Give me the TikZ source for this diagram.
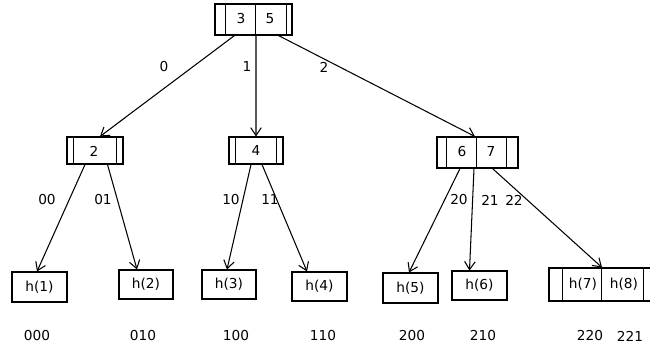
\documentclass[tikz,border=0pt]{standalone}
\usepackage{fontspec}
\setmainfont{DejaVu Sans}
\usetikzlibrary{arrows.meta}

\tikzset{
  bucket/.style={draw, line width=0.6pt, inner sep=0pt},
  slot/.style={font=\fontsize{7.8}{9}\selectfont, inner sep=1pt},
  edge/.style={line width=0.6pt, -{Straight Barb[length=4.5pt,width=6pt]}}
}

\begin{document}
\begin{tikzpicture}[x=0.02cm, y=-0.02cm]
\useasboundingbox (0,0) rectangle (650,349);
\clip (0,0) rectangle (650,349);

% directory buckets
\node[bucket, minimum width=1.54cm, minimum height=0.62cm] (root) at (253.5,19.5) {};
\node[bucket, minimum width=1.12cm, minimum height=0.54cm] (n2) at (95,150.5) {};
\node[bucket, minimum width=1.08cm, minimum height=0.54cm] (n4) at (256,150.5) {};
\node[bucket, minimum width=1.62cm, minimum height=0.62cm] (n67) at (477.5,152.5) {};

\foreach \d in {0.22,0.82,1.44}
	\draw[line width=0.6pt] ([xshift=\d cm]root.north west) -- ([xshift=\d cm]root.south west);
\foreach \d in {0.14,1.0}
	\draw[line width=0.6pt] ([xshift=\d cm]n2.north west) -- ([xshift=\d cm]n2.south west);
\foreach \d in {0.14,0.96}
	\draw[line width=0.6pt] ([xshift=\d cm]n4.north west) -- ([xshift=\d cm]n4.south west);
\foreach \d in {0.2,0.8,1.4}
	\draw[line width=0.6pt] ([xshift=\d cm]n67.north west) -- ([xshift=\d cm]n67.south west);

\node[slot] (r3) at (241,19) {3};
\node[slot] (r5) at (270,19) {5};
\node[slot] (v2) at (94,151) {2};
\node[slot] (v4) at (256,151) {4};
\node[slot] (v6) at (462,152) {6};
\node[slot] (v7) at (491,152) {7};

% leaf buckets
\node[bucket, minimum width=1.10cm, minimum height=0.60cm] (h1) at (39.5,287) {};
\node[bucket, minimum width=1.08cm, minimum height=0.58cm] (h2) at (146,284.5) {};
\node[bucket, minimum width=1.08cm, minimum height=0.58cm] (h3) at (229,284.5) {};
\node[bucket, minimum width=1.10cm, minimum height=0.58cm] (h4) at (319.5,286.5) {};
\node[bucket, minimum width=1.10cm, minimum height=0.60cm] (h5) at (410.5,288) {};
\node[bucket, minimum width=1.10cm, minimum height=0.58cm] (h6) at (479.5,285.5) {};
\node[bucket, minimum width=2.20cm, minimum height=0.66cm] (h78) at (604,284.5) {};
\foreach \d in {0.28,1.06,1.9}
	\draw[line width=0.6pt] ([xshift=\d cm]h78.north west) -- ([xshift=\d cm]h78.south west);

\foreach \n/\x/\y in {1/39.5/287, 2/146/284.5, 3/229/284.5, 4/319.5/286.5, 5/410.5/288, 6/479.5/285.5, 7/583/284.5, 8/624/284.5}
	\node[slot] (t\n) at (\x,\y) {h(\n)};

% pointers
\draw[edge] ([xshift=-0.38cm]root.south) -- ([xshift=0.1cm]n2.north);
\draw[edge] ([xshift=0.05cm]root.south) -- (n4.north);
\draw[edge] ([xshift=0.5cm]root.south) -- ([xshift=-0.05cm]n67.north);

\draw[edge] ([xshift=-0.2cm]n2.south) -- ([xshift=-0.05cm]h1.north);
\draw[edge] ([xshift=0.25cm]n2.south) -- ([xshift=-0.18cm]h2.north);
\draw[edge] ([xshift=-0.1cm]n4.south) -- ([xshift=-0.04cm]h3.north);
\draw[edge] ([xshift=0.12cm]n4.south) -- ([xshift=-0.25cm]h4.north);
\draw[edge] ([xshift=-0.35cm]n67.south) -- ([xshift=-0.03cm]h5.north);
\draw[edge] ([xshift=-0.07cm]n67.south) -- ([xshift=-0.2cm]h6.north);
\draw[edge] ([xshift=0.3cm]n67.south) -- ([xshift=-0.04cm]h78.north);

% branch digits
\foreach \x/\y/\t in {164/67/0, 247/67/1, 324/67/2, 47/200/00, 103/200/01, 231/200/10, 270/200/11, 459/200/20, 490/200/21, 514/200/22}
	\node[slot] (e\t) at (\x,\y) {\t};

% bucket addresses
\foreach \x/\t in {37/000, 143/010, 236/100, 323/110, 412/200, 483/210, 590/220, 630/221}
	\node[slot] (b\t) at (\x,336) {\t};
\end{tikzpicture}
\end{document}
